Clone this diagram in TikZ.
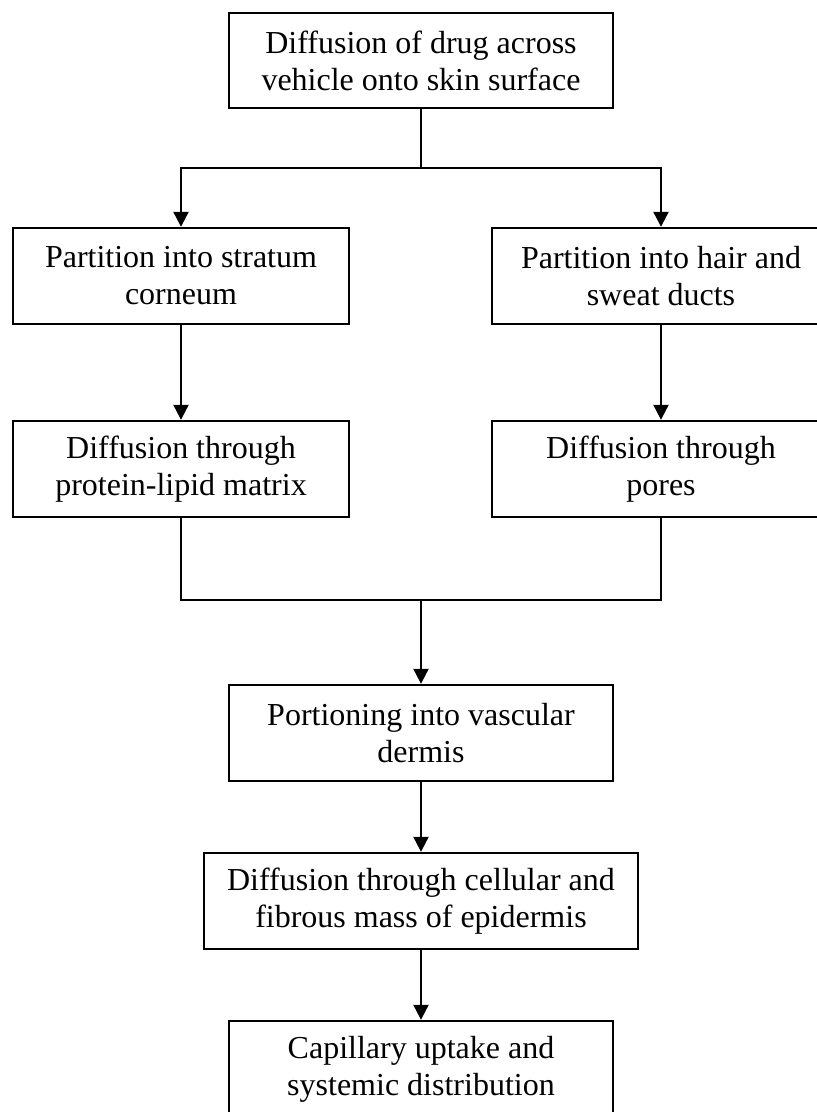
\documentclass[tikz,border=0pt]{standalone}
\usepackage{fontspec}
\setmainfont{Liberation Serif}
\usetikzlibrary{arrows.meta}

\begin{document}
\begin{tikzpicture}[x=1pt,y=-1pt,
  stepbox/.style={draw, line width=2.4pt, align=center, inner sep=0pt,
    font=\fontsize{32}{37}\selectfont},
  link/.style={line width=2.2pt},
  flow/.style={link, -{Triangle[width=15pt,length=15pt]}}]

  \useasboundingbox (0,0) rectangle (817,1112);
  \clip (0,0) rectangle (817,1112);

  % process steps
  \node[stepbox, minimum width=384pt, minimum height=95pt] (a) at (421,60.5)
    {Diffusion of drug across\\vehicle onto skin surface};
  \node[stepbox, minimum width=336pt, minimum height=96pt] (b) at (181,276)
    {Partition into stratum\\corneum};
  \node[stepbox, minimum width=338pt, minimum height=96pt] (c) at (661,276)
    {Partition into hair and\\sweat ducts};
  \node[stepbox, minimum width=336pt, minimum height=96pt] (d) at (181,469)
    {Diffusion through\\protein-lipid matrix};
  \node[stepbox, minimum width=338pt, minimum height=96pt] (e) at (661,469)
    {Diffusion through\\pores};
  \node[stepbox, minimum width=384pt, minimum height=96pt] (f) at (421,733)
    {Portioning into vascular\\dermis};
  \node[stepbox, minimum width=434pt, minimum height=96pt] (g) at (421,901)
    {Diffusion through cellular and\\fibrous mass of epidermis};
  \node[stepbox, minimum width=384pt, minimum height=96pt] (h) at (421,1069)
    {Capillary uptake and\\systemic distribution};

  % branch and merge points
  \coordinate (split) at (421,168);
  \coordinate (merge) at (421,600);

  % connectors
  \draw[link] (a.south) -- (split);
  \draw[flow] (split) -| (b.north);
  \draw[flow] (split) -| (c.north);
  \draw[flow] (b.south) -- (d.north);
  \draw[flow] (c.south) -- (e.north);
  \draw[link] (d.south) |- (merge);
  \draw[link] (e.south) |- (merge);
  \draw[flow] (merge) -- (f.north);
  \draw[flow] (f.south) -- (g.north);
  \draw[flow] (g.south) -- (h.north);
\end{tikzpicture}
\end{document}
